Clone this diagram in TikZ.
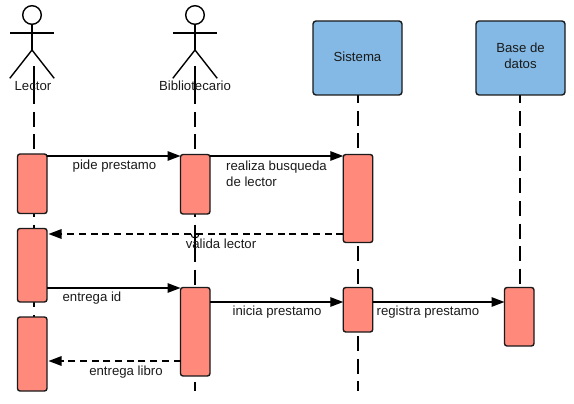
\documentclass[tikz,border=0pt]{standalone}
\usepackage{fontspec}
\setmainfont{Liberation Sans}
\usetikzlibrary{arrows.meta,backgrounds}
\definecolor{actbox}{HTML}{FF8A7C}
\definecolor{headbox}{HTML}{83B9E4}
\definecolor{inkc}{HTML}{1A1A1A}
\tikzset{
  act/.style={draw=inkc,line width=1.4pt,fill=actbox,rounded corners=2.5pt,minimum width=29.5pt,inner sep=0pt,outer sep=0pt},
  headb/.style={draw=inkc,line width=1.4pt,fill=headbox,rounded corners=3pt,minimum width=89pt,minimum height=74pt,inner sep=0pt,outer sep=0pt,align=center,font=\fontsize{13.2}{16.5}\selectfont,text=inkc},
  life/.style={black,line width=1.4pt,dash pattern=on 15pt off 7.5pt},
  msg/.style={black,line width=1.4pt,-{Triangle[length=13pt,width=9.5pt]}},
  ret/.style={black,line width=1.4pt,dash pattern=on 7pt off 4.7pt,-{Triangle[length=13pt,width=9.5pt]}},
  lab/.style={inner sep=0pt,font=\fontsize{13.2}{16.5}\selectfont,text=inkc,align=left},
  stick/.style={black,line width=1.4pt}
}
\begin{document}
\begin{tikzpicture}[x=1pt,y=-1pt]
\useasboundingbox (0,0) rectangle (574,404);
\node[headb,text depth=2pt] (sis) at (357.5,58) {Sistema};
\node[headb,text height=30pt,text depth=8pt] (bdd) at (520.5,58) {Base de\\datos};
% activations
\node[act,minimum height=59.5pt] (a1) at (32.25,183.75) {};
\node[act,minimum height=73.5pt] (a2) at (32.25,265.25) {};
\node[act,minimum height=74pt] (a3) at (32.25,354) {};
\node[act,minimum height=59.5pt] (b1) at (195.25,184.25) {};
\node[act,minimum height=88.5pt] (b2) at (195.25,331.75) {};
\node[act,minimum height=88pt] (c1) at (358,198.5) {};
\node[act,minimum height=44.5pt] (c2) at (358,309.75) {};
\node[act,minimum height=58.5pt] (d1) at (519.25,316.75) {};
% actors
\foreach \n/\x in {lec/32,bib/195}{
  \node[draw=black,line width=1.4pt,circle,fill=white,minimum size=18.6pt,inner sep=0pt,outer sep=0pt] (\n) at (\x,15) {};
  \coordinate (\n hip) at (\x,50);
  \draw[stick] (\n.south) -- (\n hip);
  \draw[stick] (\x-22.2,33) -- (\x+22.2,33);
  \draw[stick] (\x-22.2,78.3) -- (\n hip) -- (\x+22.2,78.3);
}
% lifelines, all on one dash phase
\coordinate (lecstart) at (34,66);
\coordinate (bibstart) at (195,66);
\coordinate (lecdash) at (34,89.5);
\coordinate (bibdash) at (195,89.5);
\coordinate (lecend) at (34,391);
\coordinate (bibend) at (195,391);
\coordinate (sisend) at (358,391);
\begin{scope}[on background layer]
\draw[stick] (lecstart) -- (lecdash);
\draw[stick] (bibstart) -- (bibdash);
\draw[life] (lecdash) -- (lecend);
\draw[life] (bibdash) -- (bibend);
\draw[life,dash phase=6.5pt] (sis.south -| sisend) -- (sisend);
\draw[life,dash phase=6.5pt] (bdd.south -| 520,0) -- (d1.north -| 520,0);
\draw[stick] (195,239) -- (195,248);
\end{scope}
% messages
\coordinate (m1) at (0,156); \coordinate (m2) at (0,234);
\coordinate (m3) at (0,288); \coordinate (m4) at (0,302); \coordinate (m5) at (0,361);
\draw[msg] (a1.east |- m1) -- (b1.west |- m1);
\draw[msg] (b1.east |- m1) -- (c1.west |- m1);
\draw[ret] (c1.west |- m2) -- ([xshift=1.5pt]a2.east |- m2);
\draw[msg] (a2.east |- m3) -- (b2.west |- m3);
\draw[msg] (b2.east |- m4) -- (c2.west |- m4);
\draw[msg] (c2.east |- m4) -- (d1.west |- m4);
\draw[ret] (b2.west |- m5) -- ([xshift=1.5pt]a3.east |- m5);
% crossing
\draw[black,line width=1pt] (191,234) arc (180:0:4);
% labels
\node[lab] (tlec) at (33,86.5) {Lector};
\node[lab] (tbib) at (195,86) {Bibliotecario};
\node[lab] (t1) at (114.5,166.5) {pide prestamo};
\node[lab,anchor=north west] (t2) at (226,160.5) {realiza busqueda\\de lector};
\node[lab] (t3) at (221,244) {valida lector};
\node[lab] (t4) at (92,298) {entrega id};
\node[lab] (t5) at (277,312.5) {inicia prestamo};
\node[lab] (t6) at (428,312.5) {registra prestamo};
\node[lab] (t7) at (126,372) {entrega libro};
\end{tikzpicture}
\end{document}
